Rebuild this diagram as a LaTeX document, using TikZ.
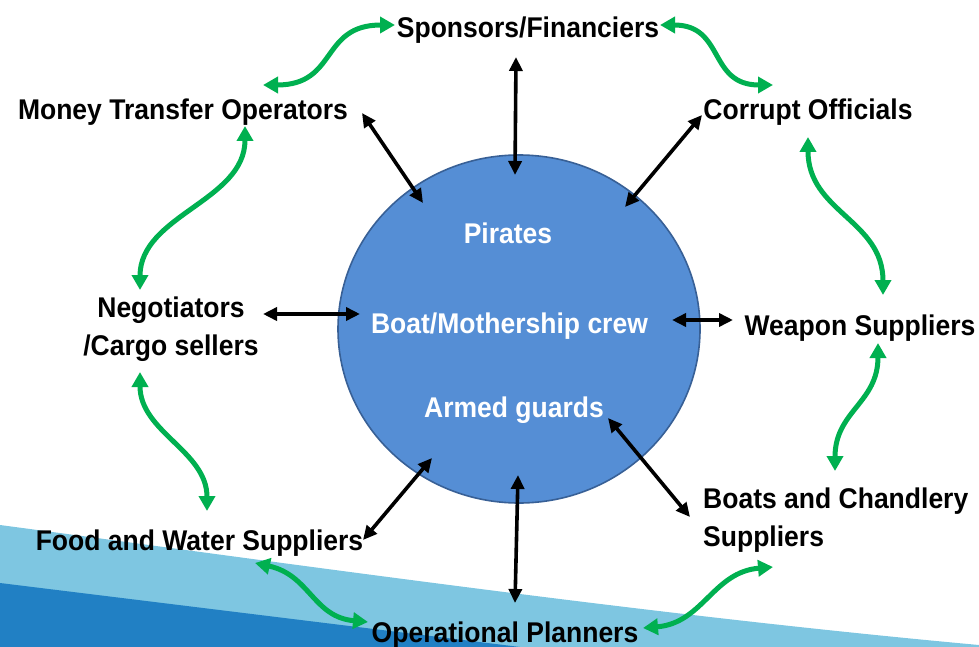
\documentclass[tikz,border=0pt]{standalone}
\usepackage{fontspec}
\setmainfont{Liberation Sans}[FakeStretch=0.93]
\usepackage{xcolor}
\usepackage{tikz}
\usetikzlibrary{arrows.meta,shapes.geometric}

\definecolor{ringblue}{RGB}{85,142,213}
\definecolor{ringedge}{RGB}{56,96,150}
\definecolor{tiegreen}{RGB}{0,176,80}
\definecolor{wavelight}{RGB}{126,198,225}
\definecolor{wavedark}{RGB}{33,128,196}

\begin{document}
\begin{tikzpicture}[x=1pt,y=-1pt,
    actor/.style={font=\fontsize{28.5}{38.5}\selectfont\bfseries, inner sep=0pt},
    ringtext/.style={actor, text=white, anchor=base},
    link/.style={<->, >={Triangle[length=14pt,width=13pt]}, line width=3.6pt, black},
    tie/.style={<->, >={Triangle[length=15pt,width=16pt]}, line width=5pt, color=tiegreen}]
    \useasboundingbox (0,0) rectangle (979,647);

    % Background waves
    \fill[wavelight] (0,525) .. controls (300,565) and (650,615) .. (979,645) -- (979,647) -- (0,647) -- cycle;
    \fill[wavedark] (0,583) -- (520,647) -- (0,647) -- cycle;

    % Central circle
    \node[ellipse, draw=ringedge, fill=ringblue, line width=1.6pt, minimum width=362pt, minimum height=348pt, inner sep=0pt] (ring) at (519,329) {};
    \node[ringtext] (pirates) at (508,243) {Pirates};
    \node[ringtext] (crew) at (509.5,333) {Boat/Mothership crew};
    \node[ringtext] (guards) at (514,417) {Armed guards};

    % Outer actors
    \node[actor, anchor=base] (spons) at (528,37.5) {Sponsors/Financiers};
    \node[actor, anchor=base] (money) at (183,120) {Money Transfer Operators};
    \node[actor, anchor=base] (corrupt) at (808,120) {Corrupt Officials};
    \node[actor, align=center] (negot) at (171,329) {Negotiators\\/Cargo sellers};
    \node[actor, anchor=base] (weapon) at (860,335) {Weapon Suppliers};
    \node[actor, anchor=base] (food) at (199.5,550) {Food and Water Suppliers};
    \node[actor, align=left, anchor=west] (boats) at (703,520) {Boats and Chandlery\\Suppliers};
    \node[actor, anchor=base] (planners) at (505,642) {Operational Planners};

    % Links to the circle
    \draw[link] ([shift={(-12,19.5)}]spons.base) -- ([shift={(-4,-154)}]ring.center);
    \draw[link] ([shift={(179,-7)}]money.base) -- ([shift={(-96,-126)}]ring.center);
    \draw[link] ([shift={(-106,-5)}]corrupt.base) -- ([shift={(106,-122)}]ring.center);
    \draw[link] ([shift={(92,-15)}]negot.center) -- ([shift={(-159,-15)}]ring.center);
    \draw[link] ([shift={(-127,-15)}]weapon.base) -- ([shift={(153,-9)}]ring.center);
    \draw[link] ([shift={(163.5,-10)}]food.base) -- ([shift={(-87,129)}]ring.center);
    \draw[link] ([shift={(10,-39)}]planners.base) -- ([shift={(-1,146)}]ring.center);
    \draw[link] ([shift={(-13,-3)}]boats.west) -- ([shift={(89,89)}]ring.center);

    % Green ties between neighbours
    \draw[tie] ([shift={(80,-35)}]money.base) .. controls +(75,0) and +(-75,0) .. ([shift={(-133,-12.5)}]spons.base);
    \draw[tie] ([shift={(132,-12.5)}]spons.base) .. controls +(65,0) and +(-65,0) .. ([shift={(-35,-35)}]corrupt.base);
    \draw[tie] ([shift={(62,6)}]money.base) .. controls +(0,75) and +(0,-75) .. ([shift={(-31,-39)}]negot.center);
    \draw[tie] ([shift={(-31,43)}]negot.center) .. controls +(0,60) and +(0,-60) .. ([shift={(7.5,-39)}]food.base);
    \draw[tie] ([shift={(0,17)}]corrupt.base) .. controls +(0,75) and +(0,-75) .. ([shift={(23,-40)}]weapon.base);
    \draw[tie] ([shift={(18,8)}]weapon.base) .. controls +(0,60) and +(0,-60) .. ([shift={(132,-49)}]boats.west);
    \draw[tie] ([shift={(55.5,13)}]food.base) .. controls +(55,12) and +(-55,-5) .. ([shift={(-137,-20)}]planners.base);
    \draw[tie] ([shift={(138,-14)}]planners.base) .. controls +(60,-5) and +(-60,5) .. ([shift={(70,47)}]boats.west);

\end{tikzpicture}
\end{document}
